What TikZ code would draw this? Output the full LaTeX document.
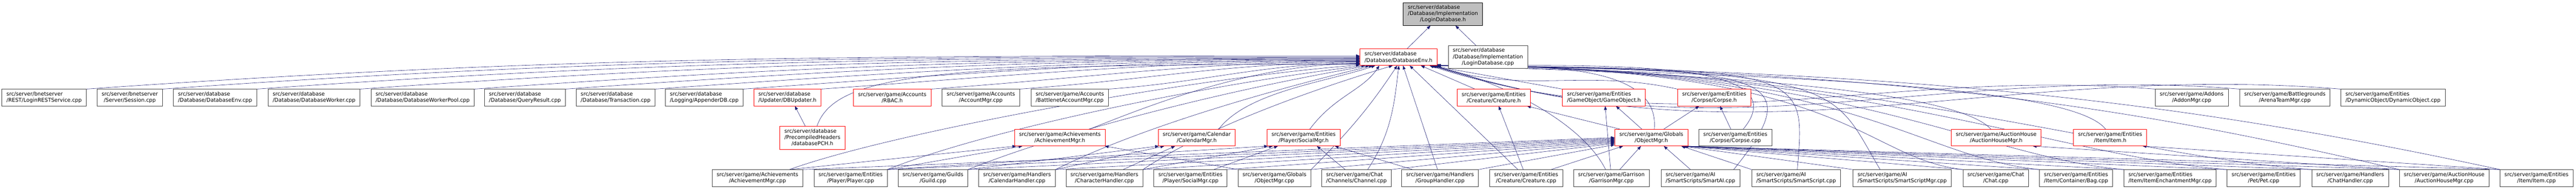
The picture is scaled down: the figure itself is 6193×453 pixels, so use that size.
\documentclass[tikz,border=0pt]{standalone}
\usepackage{fontspec}
\setmainfont{DejaVu Sans}
\usepackage{tikz}
\usetikzlibrary{arrows.meta,backgrounds}

\definecolor{edgeblue}{HTML}{191970}
\definecolor{boxline}{HTML}{404040}
\definecolor{rootgray}{HTML}{BFBFBF}

\newcommand{\threeline}[3]{\begin{tabular}{@{}l@{}}#1\\#2\\\multicolumn{1}{@{}c@{}}{#3}\end{tabular}}

\tikzset{
  file/.style = {draw=boxline, line width=0.8pt, fill=white,
                 font=\fontsize{12.6}{15}\selectfont,
                 inner xsep=11pt, inner ysep=2pt, minimum height=40pt, align=center},
  lfile/.style = {file, align=left},
  hfile/.style = {file, draw=red},
  lhfile/.style = {hfile, align=left},
  rootfile/.style = {file, draw=black, fill=rootgray},
  inc/.style = {draw=edgeblue, line width=0.7pt, -{Triangle[length=9pt,width=7pt]}},
}

\begin{document}
\begin{tikzpicture}[x=1pt,y=1pt]
  \useasboundingbox (0,0) rectangle (6193,453);

  % top
  \node[rootfile, minimum height=55pt] (logindbh) at (3469,419.5) {\threeline{src/server/database}{/Database/Implementation}{/LoginDatabase.h}};
  \node[lhfile] (dbenvh) at (3362,316) {src/server/database\\/Database/DatabaseEnv.h};
  \node[file, minimum height=54pt] (logindbcpp) at (3577,316) {\threeline{src/server/database}{/Database/Implementation}{/LoginDatabase.cpp}};

  % second row
  \node[lfile] (restsvc) at (106,219) {src/server/bnetserver\\/REST/LoginRESTService.cpp};
  \node[file] (session) at (312,219) {src/server/bnetserver\\/Server/Session.cpp};
  \node[lfile] (dbenvcpp) at (517,219) {src/server/database\\/Database/DatabaseEnv.cpp};
  \node[lfile] (dbworker) at (755,219) {src/server/database\\/Database/DatabaseWorker.cpp};
  \node[lfile] (dbpool) at (1016,219) {src/server/database\\/Database/DatabaseWorkerPool.cpp};
  \node[lfile] (qresult) at (1262,219) {src/server/database\\/Database/QueryResult.cpp};
  \node[lfile] (transact) at (1480,219) {src/server/database\\/Database/Transaction.cpp};
  \node[lfile] (appender) at (1693,219) {src/server/database\\/Logging/AppenderDB.cpp};
  \node[lhfile] (dbupdater) at (1893,219) {src/server/database\\/Updater/DBUpdater.h};
  \node[hfile] (rbac) at (2145,219) {src/server/game/Accounts\\/RBAC.h};
  \node[file] (acctmgr) at (2358,219) {src/server/game/Accounts\\/AccountMgr.cpp};
  \node[lfile] (bnetacct) at (2572,219) {src/server/game/Accounts\\/BattlenetAccountMgr.cpp};
  \node[hfile] (creatureh) at (3591,219) {src/server/game/Entities\\/Creature/Creature.h};
  \node[lhfile] (gameobjh) at (3856,219) {src/server/game/Entities\\/GameObject/GameObject.h};
  \node[hfile] (corpseh) at (4121,219) {src/server/game/Entities\\/Corpse/Corpse.h};
  \node[file] (addonmgr) at (5269,219) {src/server/game/Addons\\/AddonMgr.cpp};
  \node[file] (arenamgr) at (5493,219) {src/server/game/Battlegrounds\\/ArenaTeamMgr.cpp};
  \node[lfile] (dynobj) at (5753,219) {src/server/game/Entities\\/DynamicObject/DynamicObject.cpp};

  % third row
  \node[hfile, minimum height=55pt] (dbpch) at (1953,122.5) {\threeline{src/server/database}{/PrecompiledHeaders}{/databasePCH.h}};
  \node[hfile] (achieveh) at (2548,123) {src/server/game/Achievements\\/AchievementMgr.h};
  \node[hfile] (calendarh) at (2877,123) {src/server/game/Calendar\\/CalendarMgr.h};
  \node[hfile] (socialh) at (3134,123) {src/server/game/Entities\\/Player/SocialMgr.h};
  \node[hfile] (objmgrh) at (3970,123) {src/server/game/Globals\\/ObjectMgr.h};
  \node[file] (corpsecpp) at (4172,123) {src/server/game/Entities\\/Corpse/Corpse.cpp};
  \node[hfile] (ahmgrh) at (4799,123) {src/server/game/AuctionHouse\\/AuctionHouseMgr.h};
  \node[hfile] (itemh) at (5073,123) {src/server/game/Entities\\/Item/Item.h};

  % bottom row
  \node[file] (achievecpp) at (1821,26) {src/server/game/Achievements\\/AchievementMgr.cpp};
  \node[file] (playercpp) at (2045,26) {src/server/game/Entities\\/Player/Player.cpp};
  \node[file] (guildcpp) at (2243,26) {src/server/game/Guilds\\/Guild.cpp};
  \node[file] (calhandler) at (2445,26) {src/server/game/Handlers\\/CalendarHandler.cpp};
  \node[file] (charhandler) at (2655,26) {src/server/game/Handlers\\/CharacterHandler.cpp};
  \node[file] (socialcpp) at (2862,26) {src/server/game/Entities\\/Player/SocialMgr.cpp};
  \node[file] (objmgrcpp) at (3064,26) {src/server/game/Globals\\/ObjectMgr.cpp};
  \node[lfile] (channelcpp) at (3261,26) {src/server/game/Chat\\/Channels/Channel.cpp};
  \node[file] (grouphandler) at (3462,26) {src/server/game/Handlers\\/GroupHandler.cpp};
  \node[file] (creaturecpp) at (3669,26) {src/server/game/Entities\\/Creature/Creature.cpp};
  \node[file] (garrison) at (3874,26) {src/server/game/Garrison\\/GarrisonMgr.cpp};
  \node[lfile] (smartai) at (4088,26) {src/server/game/AI\\/SmartScripts/SmartAI.cpp};
  \node[lfile] (smartscript) at (4318,26) {src/server/game/AI\\/SmartScripts/SmartScript.cpp};
  \node[lfile] (smartmgr) at (4573,26) {src/server/game/AI\\/SmartScripts/SmartScriptMgr.cpp};
  \node[file] (chatcpp) at (4798,26) {src/server/game/Chat\\/Chat.cpp};
  \node[file] (bagcpp) at (4991,26) {src/server/game/Entities\\/Item/Container/Bag.cpp};
  \node[lfile] (enchant) at (5217,26) {src/server/game/Entities\\/Item/ItemEnchantmentMgr.cpp};
  \node[file] (petcpp) at (5442,26) {src/server/game/Entities\\/Pet/Pet.cpp};
  \node[file] (chathandler) at (5650,26) {src/server/game/Handlers\\/ChatHandler.cpp};
  \node[file] (ahmgrcpp) at (5876,26) {src/server/game/AuctionHouse\\/AuctionHouseMgr.cpp};
  \node[file] (itemcpp) at (6098,26) {src/server/game/Entities\\/Item/Item.cpp};

  \begin{pgfonlayer}{background}
  % includes of LoginDatabase.h
  \draw[inc] ([xshift=21pt]dbenvh.north) -- ([xshift=-30pt]logindbh.south);
  \draw[inc] ([xshift=-28pt]logindbcpp.north) -- ([xshift=30pt]logindbh.south);

  % second row -> DatabaseEnv.h
  \foreach \n/\dy/\c in {restsvc/3/1160, session/1/1090, dbenvcpp/-1/1000, dbworker/-3/910,
                         dbpool/-4/810, qresult/-5/720, transact/-7/640, appender/-8/560,
                         dbupdater/-10/490, rbac/-11/390, acctmgr/-13/310, bnetacct/-15/230}
    \draw[inc] (\n.north east) .. controls +(\c,{0.07*\c}) and +(-\c,0) .. ([yshift=\dy pt]dbenvh.west);
  \foreach \n/\dx/\c in {addonmgr/-18/660, arenamgr/-12/740, dynobj/-6/830}
    \draw[inc] (\n.north west) .. controls +(-\c,{0.08*\c}) and +({0.94*\c},{-0.3*\c}) .. ([xshift=\dx pt]dbenvh.south east);
  \draw[inc] ([xshift=-45pt]creatureh.north) -- ([xshift=54pt]dbenvh.south);
  \draw[inc] (gameobjh.north west) -- ([xshift=-14pt]dbenvh.south east);
  \draw[inc] (corpseh.north west) .. controls +(-230,50) and +(220,-70) .. ([xshift=-10pt]dbenvh.south east);

  % third row
  \draw[inc] ([xshift=-17pt]dbpch.north) -- ([xshift=18pt]dbupdater.south);
  \draw[inc] ([xshift=11pt]dbpch.north) .. controls +(45,130) and +(-1000,0) .. ([yshift=-17pt]dbenvh.west);
  \draw[inc] ([xshift=72pt]achieveh.north) .. controls +(150,60) and +(-250,0) .. ([yshift=-16pt]dbenvh.west);
  \draw[inc] ([xshift=53pt]calendarh.north) .. controls +(70,90) and +(-120,-40) .. ([xshift=-56pt]dbenvh.south);
  \draw[inc] ([xshift=15pt]socialh.north) .. controls +(60,80) and +(-40,-60) .. ([xshift=-46pt]dbenvh.south);
  \draw[inc] ([xshift=7pt]objmgrh.north) .. controls +(15,160) and +(250,0) .. ([xshift=-8pt]dbenvh.south east);
  \draw[inc] ([xshift=19pt]corpsecpp.north) .. controls +(140,170) and +(400,0) .. ([xshift=-4pt]dbenvh.south east);
  \draw[inc] ([xshift=-13pt]ahmgrh.north) .. controls +(-80,90) and +(700,-20) .. ([xshift=-2pt]dbenvh.south east);
  \draw[inc] ([xshift=-11pt]itemh.north) .. controls +(-80,100) and +(900,-25) .. (dbenvh.south east);
  \draw[inc] ([xshift=-76pt]objmgrh.north) -- ([xshift=80pt]creatureh.south);
  \draw[inc] ([xshift=-23pt]objmgrh.north) -- ([xshift=29pt]gameobjh.south);
  \draw[inc] ([xshift=30pt]objmgrh.north) -- ([xshift=-36pt]corpseh.south);
  \draw[inc] ([xshift=-11pt]corpsecpp.north) -- ([xshift=14pt]corpseh.south);

  % bottom row -> headers
  \draw[inc] ([xshift=-7pt]creaturecpp.north) -- ([xshift=12pt]creatureh.south);
  \draw[inc] ([xshift=-2pt]garrison.north) -- ([xshift=3pt]gameobjh.south);
  \draw[inc] ([xshift=77pt]achievecpp.north) -- ([xshift=-105pt]achieveh.south);
  \draw[inc] (playercpp.north east) -- ([xshift=-90pt]achieveh.south);
  \draw[inc] (objmgrcpp.north west) -- ([xshift=108pt]achieveh.south);
  \draw[inc] (guildcpp.north east) -- ([xshift=-91pt]calendarh.south);
  \draw[inc] (calhandler.north east) -- ([xshift=-78pt]calendarh.south);
  \draw[inc] ([xshift=45pt]charhandler.north) -- ([xshift=-52pt]calendarh.south);
  \draw[inc] (playercpp.north east) -- ([xshift=-86pt]socialh.south);
  \draw[inc] (charhandler.north east) -- ([xshift=-74pt]socialh.south);
  \draw[inc] ([xshift=56pt]socialcpp.north) -- ([xshift=-62pt]socialh.south);
  \draw[inc] ([xshift=-27pt]channelcpp.north) -- ([xshift=32pt]socialh.south);
  \draw[inc] ([xshift=-66pt]grouphandler.north) -- ([xshift=75pt]socialh.south);
  \foreach \n/\dy in {achievecpp/0, playercpp/-2, guildcpp/-4, calhandler/-6, charhandler/-8,
                      socialcpp/-10, objmgrcpp/-12, channelcpp/-14, grouphandler/-17}
    \draw[inc] (\n.north east) -- ([yshift=\dy pt]objmgrh.west);
  \draw[inc] ([xshift=60pt]creaturecpp.north) -- ([xshift=-68pt]objmgrh.south);
  \draw[inc] ([xshift=20pt]garrison.north) -- ([xshift=-25pt]objmgrh.south);
  \draw[inc] ([xshift=-24pt]smartai.north) -- ([xshift=30pt]objmgrh.south);
  \foreach \n/\dx in {smartscript/72, smartmgr/73, chatcpp/74, bagcpp/75, enchant/76,
                      petcpp/77, chathandler/78, ahmgrcpp/79, itemcpp/80}
    \draw[inc] (\n.north west) -- ([xshift=\dx pt]objmgrh.south);
  \draw[inc] (ahmgrcpp.north west) -- ([xshift=88pt]ahmgrh.south);
  \draw[inc] (itemcpp.north west) -- ([xshift=78pt]itemh.south);

  % bottom row -> DatabaseEnv.h
  \draw[inc] ([xshift=77pt]achievecpp.north) .. controls +(250,90) and +(-400,-30) .. ([yshift=-19pt]dbenvh.west);
  \draw[inc] (playercpp.north east) .. controls +(250,100) and +(-350,-40) .. ([xshift=-80pt]dbenvh.south);
  \draw[inc] (guildcpp.north east) .. controls +(250,100) and +(-300,-50) .. ([xshift=-70pt]dbenvh.south);
  \draw[inc] (calhandler.north east) .. controls +(200,100) and +(-250,-60) .. ([xshift=-62pt]dbenvh.south);
  \draw[inc] (charhandler.north east) .. controls +(150,100) and +(-200,-60) .. ([xshift=-14pt]dbenvh.south);
  \draw[inc] (objmgrcpp.north east) .. controls +(100,100) and +(-60,-90) .. ([xshift=-3pt]dbenvh.south);
  \draw[inc] ([xshift=27pt]channelcpp.north) .. controls +(60,90) and +(-10,-80) .. ([xshift=1pt]dbenvh.south);
  \draw[inc] ([xshift=-6pt]grouphandler.north) -- ([xshift=11pt]dbenvh.south);
  \draw[inc] ([xshift=-20pt]creaturecpp.north) -- ([xshift=27pt]dbenvh.south);
  \draw[inc] ([xshift=-14pt]garrison.north) .. controls +(-60,120) and +(150,-30) .. ([xshift=-16pt]dbenvh.south east);
  \draw[inc] ([xshift=80pt]smartai.north) .. controls +(190,234) and +(800,-6) .. ([xshift=-6pt]dbenvh.south east);
  \draw[inc] ([xshift=3pt]smartscript.north) .. controls +(20,240) and +(900,-8) .. ([xshift=-4pt]dbenvh.south east);
  \draw[inc] ([xshift=-53pt]smartmgr.north) .. controls +(-120,200) and +(1000,-10) .. ([xshift=-2pt]dbenvh.south east);
  \foreach \n/\c in {chatcpp/250, bagcpp/300, enchant/350, petcpp/400, chathandler/450}
    \draw[inc] (\n.north west) .. controls +(-\c,30) and +(1000,0) .. (dbenvh.south east);
  \draw[inc] (ahmgrcpp.north west) .. controls +(-600,140) and +(1150,-10) .. (dbenvh.south east);
  \draw[inc] (itemcpp.north west) .. controls +(-700,150) and +(1200,-10) .. (dbenvh.south east);
  \end{pgfonlayer}
\end{tikzpicture}
\end{document}
